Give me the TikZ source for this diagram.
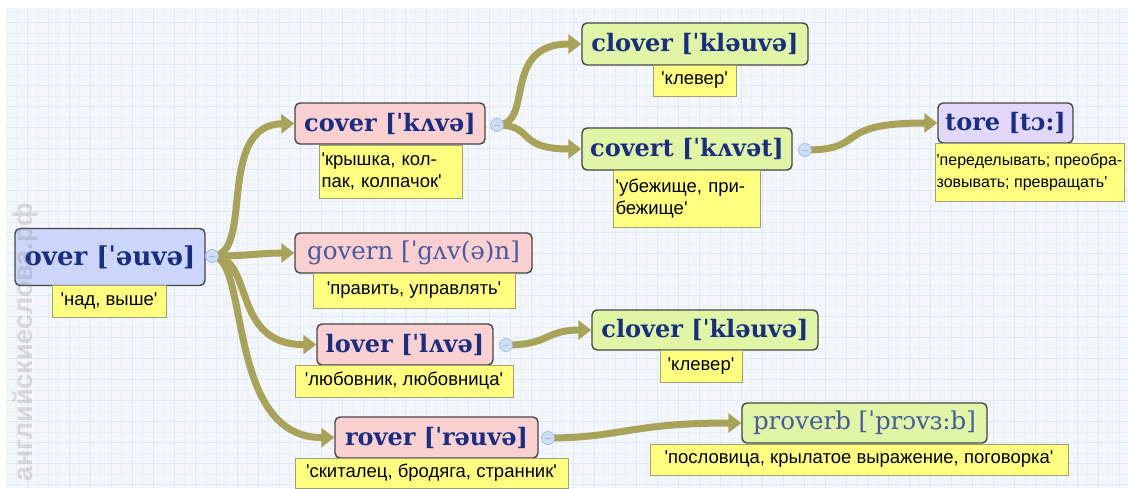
\documentclass[tikz,border=0pt]{standalone}
\usepackage{fontspec}
\usetikzlibrary{arrows.meta}
\newfontfamily\hfont{DejaVu Serif}
\newfontfamily\lfont{Liberation Sans}
\newfontfamily\wfont{Liberation Sans}
\definecolor{bgc}{RGB}{243,246,250}
\definecolor{gridmaj}{RGB}{222,234,244}
\definecolor{gridmin}{RGB}{233,240,247}
\definecolor{olv}{RGB}{168,163,88}
\definecolor{bordc}{RGB}{70,70,70}
\definecolor{wblue}{RGB}{25,45,130}
\definecolor{wblue2}{RGB}{70,90,160}
\definecolor{bluef}{RGB}{204,214,250}
\definecolor{pinkf}{RGB}{250,208,208}
\definecolor{greenf}{RGB}{224,245,165}
\definecolor{lilacf}{RGB}{226,216,250}
\definecolor{yelf}{RGB}{255,255,128}
\definecolor{yelb}{RGB}{160,160,120}
\definecolor{circf}{RGB}{205,222,245}
\definecolor{circb}{RGB}{165,190,225}
\pgfdeclarelayer{bg}
\pgfsetlayers{bg,main}
\begin{document}
\begin{tikzpicture}[x=1pt,y=-1pt,
  wordbox/.style={draw=bordc, line width=1.4pt, rounded corners=5pt, inner sep=0pt, text=wblue,
    font=\hfont\bfseries\fontsize{24}{28}\selectfont},
  wordlight/.style={wordbox, text=wblue2, font=\hfont\fontsize{24.5}{28}\selectfont},
  lblbox/.style={draw=yelb, fill=yelf, line width=0.8pt, inner sep=0pt, align=left,
    font=\lfont\fontsize{18.5}{22}\selectfont},
  tog/.style={circle, draw=circb, fill=circf, line width=0.8pt, minimum size=13pt, inner sep=0pt,
    path picture={\draw[circb, line width=1pt] ([xshift=-3pt]path picture bounding box.center) -- ([xshift=3pt]path picture bounding box.center);}},
  conn/.style={olv, line width=7pt, -{Triangle[length=13pt,width=19pt]}}
]
\useasboundingbox (0,0) rectangle (1128,488);
% background grid
\begin{pgfonlayer}{bg}
\fill[white] (0,0) rectangle (1128,488);
\fill[bgc] (6,8) rectangle (1128,488);
\foreach \x in {16.5,37.5,...,1128} \draw[gridmin, line width=0.8pt] (\x,8) -- (\x,488);
\foreach \y in {12,33,...,488} \draw[gridmin, line width=0.8pt] (6,\y) -- (1128,\y);
\foreach \x in {27,48,...,1128} \draw[gridmaj, line width=1pt] (\x,8) -- (\x,488);
\foreach \y in {22.5,43.5,...,488} \draw[gridmaj, line width=1pt] (6,\y) -- (1128,\y);
\end{pgfonlayer}

% word boxes
\node[wordbox, fill=bluef, minimum width=190pt, minimum height=57pt, font=\hfont\bfseries\fontsize{26}{30}\selectfont] (over) at (110,257) {over [ˈəuvə]};
\node[wordbox, fill=pinkf, minimum width=190pt, minimum height=41pt] (cover) at (390,123.5) {cover [ˈkʌvə]};
\node[wordbox, fill=greenf, minimum width=226pt, minimum height=42pt] (clovera) at (695,44) {clover [ˈkləuvə]};
\node[wordbox, fill=greenf, minimum width=210pt, minimum height=42pt] (covert) at (687,149) {covert [ˈkʌvət]};
\node[wordbox, fill=lilacf, minimum width=135pt, minimum height=40pt] (tore) at (1005.5,123) {tore [tɔ:]};
\node[wordlight, fill=pinkf, minimum width=237pt, minimum height=40pt] (govern) at (413.5,253) {govern [ˈgʌv(ə)n]};
\node[wordbox, fill=pinkf, minimum width=176pt, minimum height=41pt] (lover) at (405,344.5) {lover [ˈlʌvə]};
\node[wordbox, fill=greenf, minimum width=226pt, minimum height=40pt] (cloverb) at (705,330) {clover [ˈkləuvə]};
\node[wordbox, fill=pinkf, minimum width=203pt, minimum height=41pt] (rover) at (436.5,437.5) {rover [ˈrəuvə]};
\node[wordlight, fill=greenf, minimum width=245pt, minimum height=40pt] (proverb) at (864.5,423) {proverb [ˈprɔvɜ:b]};

% translation labels
\node[lblbox, minimum width=114pt, minimum height=32pt] (overl) at (109,301) {'над, выше'};
\node[lblbox, minimum width=143pt, minimum height=53pt, text width=138pt] (coverl) at (390.5,171.5) {'крышка, кол-\\пак, колпачок'};
\node[lblbox, minimum width=83pt, minimum height=31pt] (cloveral) at (694.5,80.5) {'клевер'};
\node[lblbox, minimum width=147pt, minimum height=57pt, text width=142pt] (covertl) at (686.5,198.5) {'убежище, при-\\бежище'};
\node[lblbox, minimum width=189pt, minimum height=58pt, font=\lfont\fontsize{16}{22}\selectfont] (torel) at (1029.5,172) {'переделывать; преобра-\\зовывать; превращать'};
\node[lblbox, minimum width=202pt, minimum height=35pt] (governl) at (414,290.5) {'править, управлять'};
\node[lblbox, minimum width=218pt, minimum height=32pt] (loverl) at (404,381) {'любовник, любовница'};
\node[lblbox, minimum width=82pt, minimum height=32pt] (cloverbl) at (701,366) {'клевер'};
\node[lblbox, minimum width=273pt, minimum height=30pt] (roverl) at (431.5,473) {'скиталец, бродяга, странник'};
\node[lblbox, minimum width=418pt, minimum height=31pt] (proverbl) at (859,459.5) {'пословица, крылатое выражение, поговорка'};

% collapse toggles
\node[tog] (overt) at (212,256) {};
\node[tog] (covertg) at (497,125) {};
\node[tog] (coverttg) at (805,150) {};
\node[tog] (lovert) at (506,345) {};
\node[tog] (rovert) at (548,438) {};

% connectors
\begin{pgfonlayer}{bg}
\draw[conn] (overt.center) .. controls (255,256) and (215,125) .. (cover.west);
\draw[conn] (overt.center) .. controls (250,256) and (260,253) .. (govern.west);
\draw[conn] (overt.center) .. controls (255,256) and (230,345) .. (lover.west);
\draw[conn] (overt.center) .. controls (250,256) and (225,438) .. (rover.west);
\draw[conn] (covertg.center) .. controls (535,125) and (500,44) .. (clovera.west);
\draw[conn] (covertg.center) .. controls (535,125) and (515,149) .. (covert.west);
\draw[conn] (coverttg.center) .. controls (870,150) and (830,123) .. (tore.west);
\draw[conn] (lovert.center) .. controls (550,345) and (545,330) .. (cloverb.west);
\draw[conn] (rovert.center) .. controls (620,438) and (630,423) .. (proverb.west);
\end{pgfonlayer}

% watermark
\node[rotate=90, text=gray, opacity=0.25, font=\wfont\bfseries\fontsize{27}{30}\selectfont] (wm) at (25,342) {английскиеслова.рф};
\end{tikzpicture}
\end{document}
